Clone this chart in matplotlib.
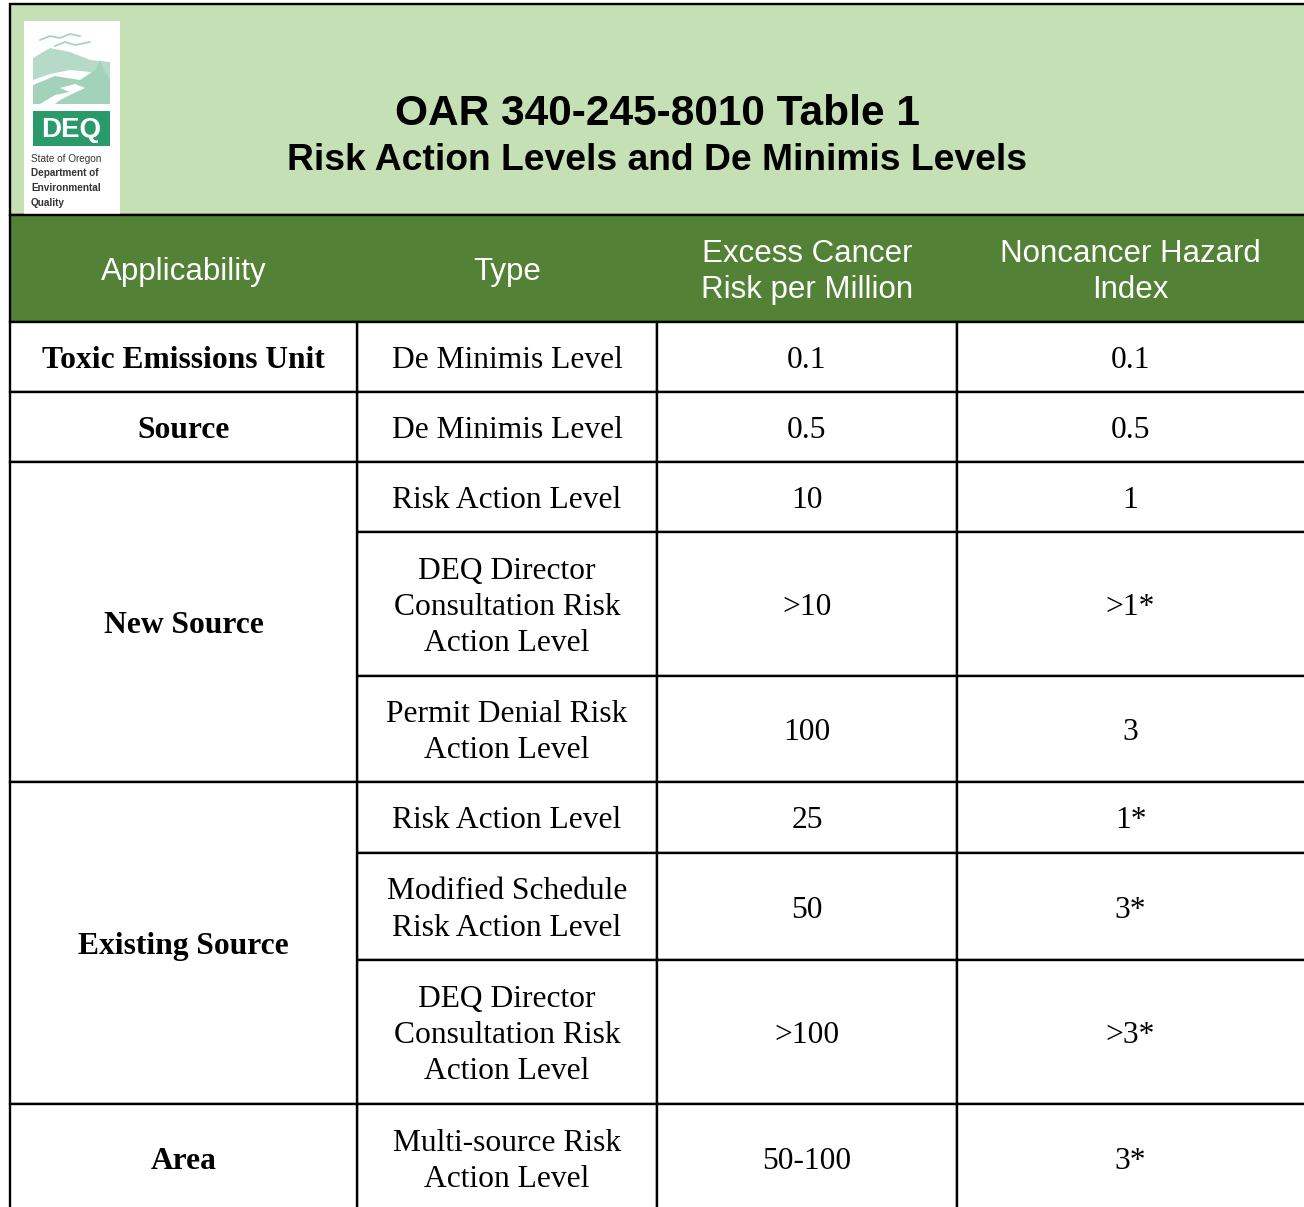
import matplotlib.pyplot as plt
from matplotlib.patches import Rectangle, Polygon

# table content
title1 = "OAR 340-245-8010 Table 1"
title2 = "Risk Action Levels and De Minimis Levels"
headers = ["Applicability", "Type", "Excess Cancer\nRisk per Million", "Noncancer Hazard\nIndex"]
applicability = ["Toxic Emissions Unit", "Source", "New Source", "Existing Source", "Area"]
app_rows = [1, 1, 3, 3, 1]  # number of type rows each group spans
types = ["De Minimis Level", "De Minimis Level", "Risk Action Level",
         "DEQ Director\nConsultation Risk\nAction Level", "Permit Denial Risk\nAction Level",
         "Risk Action Level", "Modified Schedule\nRisk Action Level",
         "DEQ Director\nConsultation Risk\nAction Level", "Multi-source Risk\nAction Level"]
cancer = ["0.1", "0.5", "10", ">10", "100", "25", "50", ">100", "50-100"]
hazard = ["0.1", "0.5", "1", ">1*", "3", "1*", "3*", ">3*", "3*"]

# layout (pixels)
col_x = [10, 357, 657, 957, 1310]
row_y = [322, 392, 462, 532, 676, 782, 853, 960, 1104, 1215]
top, head_top = 4, 215
dy = 3.5  # nudge text down toward visual centre

light_green = "#C5E0B4"
dark_green = "#538135"
lw = 1.7

fig = plt.figure(figsize=(13.04, 12.07), dpi=100)
ax = fig.add_axes([0, 0, 1, 1])
ax.set_xlim(0, 1304)
ax.set_ylim(1207, 0)
ax.axis("off")

# title band
ax.add_patch(Rectangle((col_x[0], top), col_x[-1] - col_x[0], head_top - top,
                       facecolor=light_green, edgecolor="black", lw=lw))
mid = (col_x[0] + 1304) / 2
ax.text(mid, 114, title1, ha="center", va="center", fontsize=30.5,
        fontweight="bold", family="Liberation Sans")
ax.text(mid, 161, title2, ha="center", va="center", fontsize=26.8,
        fontweight="bold", family="Liberation Sans")

# logo
ax.add_patch(Rectangle((24, 21), 96, 196, facecolor="white", edgecolor="none"))
ax.add_patch(Polygon([(33, 58), (50, 48), (70, 52), (90, 60), (110, 62), (110, 80),
                      (90, 72), (70, 70), (50, 74), (33, 80)], facecolor="#B5DBC8", edgecolor="none"))
ax.add_patch(Polygon([(33, 85), (55, 76), (80, 80), (95, 70), (100, 60), (104, 70), (110, 80),
                      (110, 104), (33, 104)], facecolor="#A3D2BB", edgecolor="none"))
ax.add_patch(Polygon([(40, 104), (55, 95), (70, 92), (60, 88), (75, 84), (85, 88), (72, 94),
                      (60, 100), (55, 104)], facecolor="white", edgecolor="none"))
ax.plot([40, 50, 60, 70, 80], [40, 36, 38, 34, 36], color="#A3D2BB", lw=1.2)
ax.plot([55, 65, 75, 90], [46, 42, 45, 42], color="#A3D2BB", lw=1.2)
ax.add_patch(Rectangle((33, 111), 77, 35, facecolor="#2A9A6A", edgecolor="none"))
ax.text(71, 130, "DEQ", ha="center", va="center", fontsize=20, fontweight="bold",
        color="white", family="Liberation Sans")
logo_lines = ["State of Oregon", "Department of", "Environmental", "Quality"]
for i, s in enumerate(logo_lines):
    ax.text(31, 159 + i * 14.5, s, ha="left", va="center", fontsize=7.2,
            fontweight="normal" if i == 0 else "bold", color="#333333",
            family="Liberation Sans")

# header row
ax.add_patch(Rectangle((col_x[0], head_top), col_x[-1] - col_x[0], row_y[0] - head_top,
                       facecolor=dark_green, edgecolor="black", lw=lw))
for j, h in enumerate(headers):
    cx = (col_x[j] + min(col_x[j + 1], 1304)) / 2
    ax.text(cx, (head_top + row_y[0]) / 2 + dy, h, ha="center", va="center",
            fontsize=22.5, color="white", family="Liberation Sans", linespacing=1.28)

# body cells
for i in range(len(types)):
    y0, y1 = row_y[i], row_y[i + 1]
    yc = (y0 + min(y1, 1212)) / 2 + dy
    for j, val in enumerate([types[i], cancer[i], hazard[i]], start=1):
        ax.add_patch(Rectangle((col_x[j], y0), col_x[j + 1] - col_x[j], y1 - y0,
                               facecolor="white", edgecolor="black", lw=lw))
        cx = (col_x[j] + min(col_x[j + 1], 1304)) / 2
        ax.text(cx, yc, val, ha="center", va="center", fontsize=22.7,
                family="Liberation Serif", linespacing=1.32)

r = 0
for name, n in zip(applicability, app_rows):
    y0, y1 = row_y[r], row_y[r + n]
    ax.add_patch(Rectangle((col_x[0], y0), col_x[1] - col_x[0], y1 - y0,
                           facecolor="white", edgecolor="black", lw=lw))
    yc = (y0 + min(y1, 1212)) / 2 + dy
    ax.text((col_x[0] + col_x[1]) / 2, yc, name, ha="center", va="center",
            fontsize=22.7, fontweight="bold", family="Liberation Serif")
    r += n

fig.savefig("out.png", dpi=100)
